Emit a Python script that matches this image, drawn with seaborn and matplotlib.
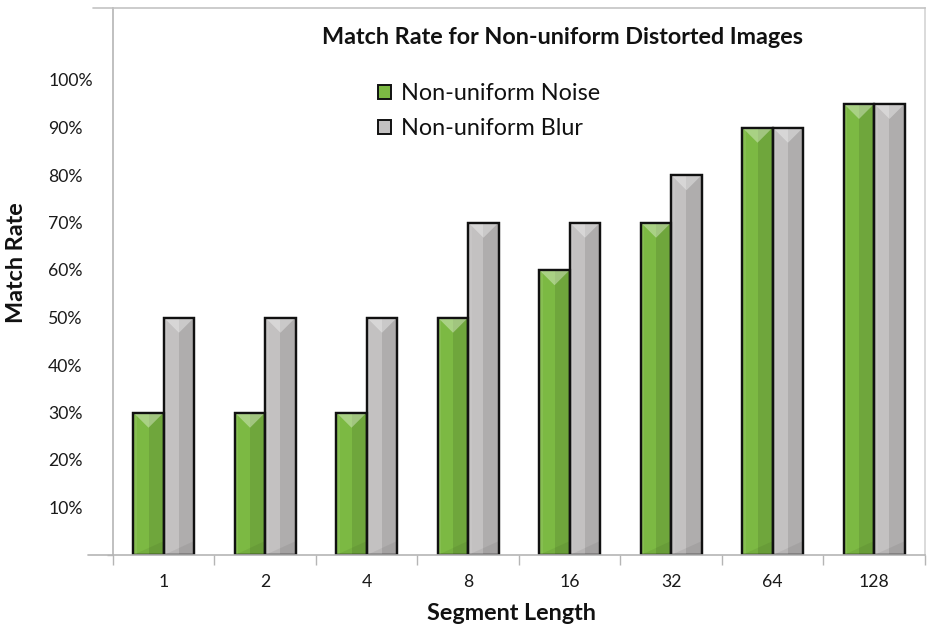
import matplotlib
matplotlib.use("Agg")
import matplotlib.pyplot as plt
from matplotlib.patches import Polygon, Rectangle
import seaborn as sns
import pandas as pd
import numpy as np

# ---- data ----
segment_lengths = ["1", "2", "4", "8", "16", "32", "64", "128"]
noise_rate = [0.30, 0.30, 0.30, 0.50, 0.60, 0.70, 0.90, 0.95]
blur_rate = [0.50, 0.50, 0.50, 0.70, 0.70, 0.80, 0.90, 0.95]
series_names = ["Non-uniform Noise", "Non-uniform Blur"]
ytick_values = [0.1, 0.2, 0.3, 0.4, 0.5, 0.6, 0.7, 0.8, 0.9, 1.0]
ytick_labels = ["10%", "20%", "30%", "40%", "50%", "60%", "70%", "80%", "90%", "100%"]

df = pd.DataFrame({
    "Segment Length": segment_lengths * 2,
    "Match Rate": noise_rate + blur_rate,
    "Series": [series_names[0]] * len(segment_lengths) + [series_names[1]] * len(segment_lengths),
})

GREEN = "#7cb943"
GRAY = "#c3c1c1"

sns.set_theme(style="white")
plt.rcParams["font.family"] = ["Lato", "DejaVu Sans"]

W, H = 929, 628
fig = plt.figure(figsize=(W / 100, H / 100), dpi=100)
ax_l, ax_r, ax_t, ax_b = 113, 925, 8, 555
ax = fig.add_axes([ax_l / W, (H - ax_b) / H, (ax_r - ax_l) / W, (ax_b - ax_t) / H])

sns.barplot(data=df, x="Segment Length", y="Match Rate", hue="Series",
            order=segment_lengths, hue_order=series_names,
            palette=[GREEN, GRAY], width=0.6, gap=0, saturation=1,
            edgecolor="#111111", linewidth=1.6, ax=ax, legend=False)

ymax = (ax_b - ax_t) / 475.0
ax.set_ylim(0, ymax)
ax.set_xlim(-0.5, len(segment_lengths) - 0.5)

# bevel shading on each bar
px_per_y = (ax_b - ax_t) / ymax
px_per_x = (ax_r - ax_l) / len(segment_lengths)
for bar in list(ax.patches):
    x0, w, h = bar.get_x(), bar.get_width(), bar.get_height()
    if h <= 0:
        continue
    x1, xc = x0 + w, x0 + w / 2
    d = (w * px_per_x / 2) / px_per_y  # 45 degree chevron depth in data units
    z = bar.get_zorder()
    ax.add_patch(Rectangle((xc, 0), w / 2, h, facecolor="black", alpha=0.10,
                           edgecolor="none", zorder=z + 0.1))
    ax.add_patch(Rectangle((x0, 0), w * 0.12, h, facecolor="white", alpha=0.08,
                           edgecolor="none", zorder=z + 0.1))
    ax.add_patch(Polygon([(x0, h), (x1, h), (xc, h - d)], closed=True,
                         facecolor="white", alpha=0.35, edgecolor="none", zorder=z + 0.2))
    ax.add_patch(Polygon([(x0, 0), (x1, 0), (x1, d * 0.9)], closed=True,
                         facecolor="black", alpha=0.06, edgecolor="none", zorder=z + 0.2))
    ax.add_patch(Rectangle((x0, 0), w, h, facecolor="none", edgecolor="#111111",
                           linewidth=1.6, zorder=z + 0.3))

# axes and frame
line_col = "#b5b5b5"
for s in ["left", "right", "top", "bottom"]:
    ax.spines[s].set_visible(True)
    ax.spines[s].set_color(line_col)
    ax.spines[s].set_linewidth(1.2)
ax.spines["right"].set_color("#d4d4d4")
ax.spines["top"].set_color("#c4c4c4")
ax.plot([-20 / (ax_r - ax_l), 0], [1, 1], transform=ax.transAxes,
        color="#c4c4c4", lw=1.2, clip_on=False)
ax.plot([-25 / (ax_r - ax_l), 0], [0, 0], transform=ax.transAxes,
        color=line_col, lw=1.2, clip_on=False)

# y ticks: labels every 10%, tick marks every 20%
ax.set_yticks(ytick_values)
ax.set_yticklabels(ytick_labels)
ax.set_yticks(np.arange(0, 1.01, 0.2), minor=True)
ax.tick_params(axis="y", which="major", length=0, pad=(113 - 48) * 0.72,
               labelsize=12.7, labelcolor="#1a1a1a")
ax.tick_params(axis="y", which="minor", length=4, width=1, color=line_col, left=True)
for lab in ax.get_yticklabels():
    lab.set_horizontalalignment("left")

# x ticks: labels at centres, marks at category boundaries
ax.set_xticks(np.arange(-0.5, len(segment_lengths), 1.0), minor=True)
ax.tick_params(axis="x", which="major", length=0, pad=14, labelsize=12.7,
               labelcolor="#1a1a1a")
ax.tick_params(axis="x", which="minor", length=7, width=1, color=line_col, bottom=True)

ax.set_xlabel("")
ax.set_ylabel("")
fig.text(511 / W, 1 - 613 / H, "Segment Length", ha="center", va="center",
         fontsize=16.8, fontweight="bold", color="#111111")
fig.text(17 / W, 1 - 263 / H, "Match Rate", ha="center", va="center", rotation=90,
         fontsize=16.8, fontweight="bold", color="#111111")

fig.text(563 / W, 1 - 38 / H, "Match Rate for Non-uniform Distorted Images",
         ha="center", va="center", fontsize=16.8, fontweight="bold", color="#111111")

# legend
handles = [Rectangle((0, 0), 1, 1, facecolor=c, edgecolor="#111111", linewidth=1.4)
           for c in [GREEN, GRAY]]
leg = ax.legend(handles, series_names, loc="upper left",
                bbox_to_anchor=((378 - ax_l) / (ax_r - ax_l), (555 - 83) / (ax_b - ax_t)),
                frameon=False, fontsize=16.8, handlelength=0.55, handleheight=0.55,
                handletextpad=0.45, labelspacing=0.62, borderpad=0, borderaxespad=0)
for t in leg.get_texts():
    t.set_color("#111111")

fig.savefig("out.png", dpi=100, facecolor="white")
